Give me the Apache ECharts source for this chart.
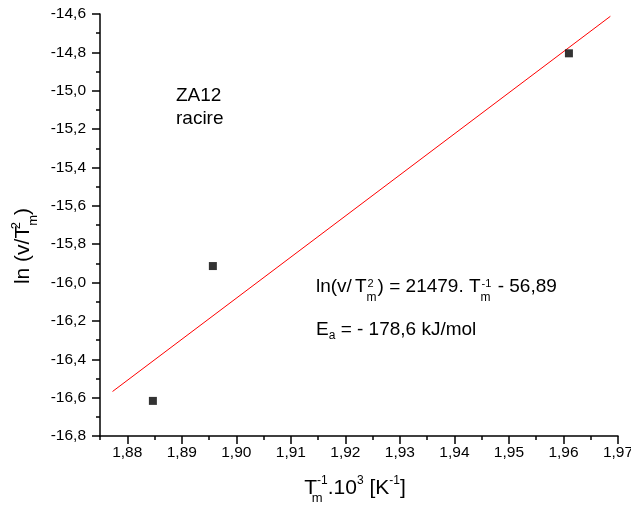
<!DOCTYPE html>
<html><head><meta charset="utf-8">
<script src="https://cdn.jsdelivr.net/npm/echarts@6/dist/echarts.min.js"></script>
<style>html,body{margin:0;padding:0;background:#fff}#c{width:631px;height:510px}</style>
</head><body><div id="c"></div>
<script>
// measured points
const pointX = [1.8847, 1.8957, 1.9610];
const pointY = [-16.617, -15.914, -14.805];
// fitted line end points
const fitX = [1.8773, 1.9686];
const fitY = [-16.568, -14.612];
// axis ticks
const xMajorTicks = [1.88, 1.89, 1.90, 1.91, 1.92, 1.93, 1.94, 1.95, 1.96, 1.97];
const xMinorTicks = [1.875, 1.885, 1.895, 1.905, 1.915, 1.925, 1.935, 1.945, 1.955, 1.965];
const xRange = [1.875, 1.97];
const yRange = [-16.8, -14.6];
const yStep = 0.2;
// annotations
const labelLines = ['ZA12', 'racire'];

const FONT = 'Liberation Sans, Arial, sans-serif';
const chart = echarts.init(document.getElementById('c'), null, {renderer: 'canvas'});
const comma = (v, d) => v.toFixed(d).replace('.', ',');
const st = (o) => Object.assign({fontFamily: FONT, color: '#000'}, o);

const xTitleRich = {
  n: st({fontSize: 21, lineHeight: 30}),
  sub: st({fontSize: 13, lineHeight: 30, padding: [20, 0, 0, 0], width: 0}),
  sup: st({fontSize: 12, lineHeight: 30, padding: [0, 0, 14, 0]})
};
const yTitleRich = {
  n: st({fontSize: 21, lineHeight: 30}),
  supw: st({fontSize: 13, lineHeight: 30, padding: [0, 0, 14, 0], width: 0}),
  sub: st({fontSize: 13, lineHeight: 30, padding: [20, 0, 0, 0]})
};
const EQ = 19;
const eqRich = {
  n: st({fontSize: EQ, lineHeight: 26}),
  sp: st({fontSize: EQ, lineHeight: 26, width: 3}),
  subw: st({fontSize: 12, lineHeight: 26, padding: [23, 0, 0, 0], width: 0}),
  sup2: st({fontSize: 11, lineHeight: 26, padding: [0, 4, 6, 1]}),
  sup1: st({fontSize: 11, lineHeight: 26, padding: [0, 1, 6, 1]}),
  suba: st({fontSize: 12, lineHeight: 26, padding: [13, 0, 0, 0]})
};

const axisLineStyle = {color: '#000', width: 1.5};

const option = {
  animation: false,
  backgroundColor: '#fff',
  grid: {left: 100, right: 13, top: 14, bottom: 74, outerBoundsMode: 'none', containLabel: false},
  xAxis: [{
    type: 'value', min: xRange[0], max: xRange[1], position: 'bottom',
    axisLine: {show: true, onZero: false, lineStyle: axisLineStyle},
    axisTick: {show: true, length: 8, lineStyle: axisLineStyle, customValues: xMajorTicks},
    axisLabel: {customValues: xMajorTicks, formatter: v => comma(v, 2), fontSize: 15.5, fontFamily: FONT, color: '#000', margin: 9},
    splitLine: {show: false},
    name: '{n|T}{sub|m}{sup|-1}{n|.10}{sup|3}{n| [K}{sup|-1}{n|]}',
    nameLocation: 'middle', nameGap: 37,
    nameTextStyle: {rich: xTitleRich, padding: [0, 8, 0, 0]}
  }, {
    type: 'value', min: xRange[0], max: xRange[1], position: 'bottom',
    axisLine: {show: false},
    axisTick: {show: true, length: 4, lineStyle: axisLineStyle, customValues: xMinorTicks},
    axisLabel: {show: false},
    splitLine: {show: false}
  }],
  yAxis: {
    type: 'value', min: yRange[0], max: yRange[1], interval: yStep,
    axisLine: {show: true, onZero: false, lineStyle: axisLineStyle},
    axisTick: {show: true, length: 8, lineStyle: axisLineStyle},
    minorTick: {show: true, splitNumber: 2, length: 4, lineStyle: axisLineStyle},
    axisLabel: {formatter: v => comma(v, 1), fontSize: 15.5, fontFamily: FONT, color: '#000', margin: 14},
    splitLine: {show: false},
    minorSplitLine: {show: false},
    name: '{n|ln (v/T}{supw|2}{sub|m}{n|)}',
    nameLocation: 'middle', nameGap: 56,
    nameTextStyle: {rich: yTitleRich, padding: [0, 42, 0, 0]}
  },
  series: [{
    type: 'line',
    data: fitX.map((x, i) => [x, fitY[i]]),
    showSymbol: false, symbol: 'none',
    lineStyle: {color: '#ff0000', width: 1},
    silent: true, z: 2
  }, {
    type: 'scatter',
    data: pointX.map((x, i) => [x, pointY[i]]),
    symbol: 'rect', symbolSize: 8,
    itemStyle: {color: '#000'},
    z: 3
  }],
  graphic: [{
    type: 'text', left: 176, top: 84,
    style: {text: labelLines.join('\n'), font: '19px ' + FONT, fill: '#000', lineHeight: 23}
  }, {
    type: 'text', left: 316, top: 269,
    style: {
      text: '{n|ln(v/}{sp| }{n|T}{subw|m}{sup2|2}{n|) = 21479. T}{subw|m}{sup1|-1}{n| - 56,89}',
      rich: eqRich
    }
  }, {
    type: 'text', left: 316, top: 317,
    style: {
      text: '{n|E}{suba|a}{n| = - 178,6 kJ/mol}',
      rich: eqRich
    }
  }]
};
chart.setOption(option);
</script>
</body></html>
